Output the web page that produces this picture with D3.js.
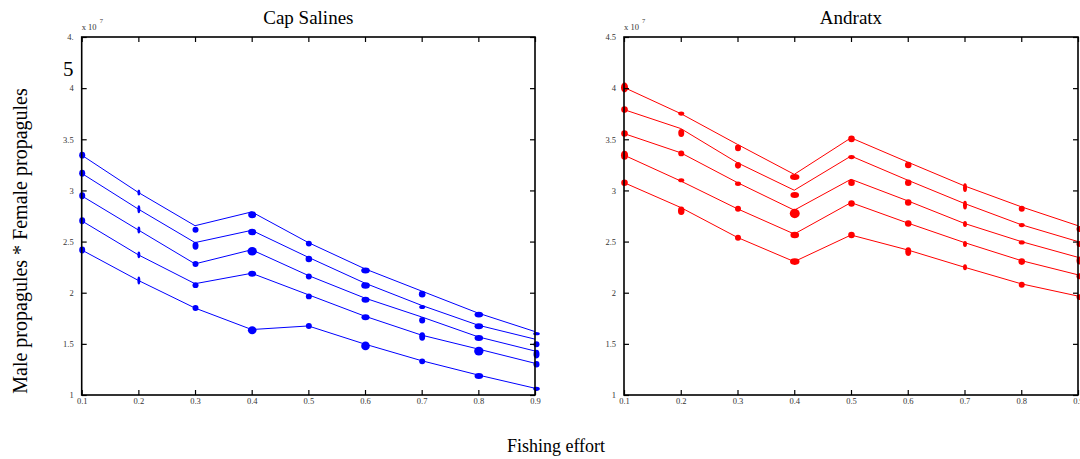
<!DOCTYPE html>
<html><head><meta charset="utf-8">
<script src="https://cdn.jsdelivr.net/npm/d3@7"></script>
<style>html,body{margin:0;padding:0;background:#fff;}svg{display:block;}</style>
</head><body>
<svg id="c" width="1080" height="459"></svg>
<script>
// ---------- data ----------
const effort = [0.1, 0.2, 0.3, 0.4, 0.5, 0.6, 0.7, 0.8, 0.9];
const yTicks = [1, 1.5, 2, 2.5, 3, 3.5, 4, 4.5];
const xTicks = [0.1, 0.2, 0.3, 0.4, 0.5, 0.6, 0.7, 0.8, 0.9];
const titles = ["Cap Salines", "Andratx"];

// Cap Salines (x 10^7): line values
const capLines = [
  [3.345, 2.980, 2.655, 2.790, 2.490, 2.233, 2.016, 1.800, 1.620],
  [3.167, 2.817, 2.490, 2.610, 2.346, 2.093, 1.876, 1.682, 1.546],
  [2.947, 2.613, 2.282, 2.420, 2.168, 1.947, 1.763, 1.568, 1.430],
  [2.703, 2.370, 2.088, 2.190, 1.980, 1.770, 1.585, 1.449, 1.310],
  [2.418, 2.120, 1.850, 1.640, 1.675, 1.497, 1.335, 1.195, 1.066]
];
// Cap Salines: point (marker) values
const capPoints = [
  [3.345, 2.979, 2.616, 2.762, 2.480, 2.217, 1.986, 1.786, 1.600],
  [3.167, 2.817, 2.460, 2.593, 2.330, 2.071, 1.860, 1.672, 1.497],
  [2.947, 2.613, 2.280, 2.405, 2.158, 1.932, 1.730, 1.558, 1.400],
  [2.703, 2.370, 2.074, 2.185, 1.964, 1.760, 1.572, 1.429, 1.300],
  [2.418, 2.120, 1.850, 1.633, 1.675, 1.480, 1.329, 1.186, 1.060]
];
// Cap Salines: spread of each point (value units, effort units)
const capSpreadV = [
  [0.034, 0.029, 0.029, 0.034, 0.029, 0.029, 0.032, 0.029, 0.017],
  [0.034, 0.039, 0.039, 0.032, 0.032, 0.032, 0.020, 0.029, 0.029],
  [0.034, 0.034, 0.029, 0.042, 0.029, 0.029, 0.032, 0.029, 0.042],
  [0.034, 0.034, 0.029, 0.029, 0.029, 0.029, 0.042, 0.042, 0.032],
  [0.034, 0.039, 0.029, 0.039, 0.029, 0.042, 0.029, 0.029, 0.020]
];
const capSpreadE = [
  [0.0053, 0.0026, 0.0053, 0.0071, 0.0053, 0.0076, 0.0058, 0.0076, 0.0058],
  [0.0053, 0.0026, 0.0053, 0.0071, 0.0058, 0.0076, 0.0053, 0.0076, 0.0053],
  [0.0053, 0.0026, 0.0053, 0.0083, 0.0053, 0.0071, 0.0053, 0.0076, 0.0053],
  [0.0053, 0.0026, 0.0053, 0.0071, 0.0053, 0.0071, 0.0053, 0.0083, 0.0053],
  [0.0053, 0.0026, 0.0053, 0.0076, 0.0053, 0.0076, 0.0053, 0.0076, 0.0058]
];

// Andratx (x 10^7): line values
const andLines = [
  [4.007, 3.751, 3.450, 3.157, 3.514, 3.277, 3.044, 2.840, 2.655],
  [3.790, 3.605, 3.270, 3.002, 3.336, 3.100, 2.872, 2.665, 2.500],
  [3.556, 3.368, 3.076, 2.807, 3.109, 2.898, 2.677, 2.500, 2.346],
  [3.345, 3.092, 2.820, 2.574, 2.881, 2.681, 2.490, 2.314, 2.175],
  [3.076, 2.833, 2.540, 2.304, 2.564, 2.418, 2.249, 2.087, 1.967]
];
const andPoints = [
  [4.007, 3.751, 3.416, 3.131, 3.504, 3.248, 3.027, 2.820, 2.623],
  [3.790, 3.562, 3.245, 2.956, 3.326, 3.076, 2.856, 2.661, 2.477],
  [3.556, 3.362, 3.066, 2.774, 3.076, 2.881, 2.671, 2.492, 2.314],
  [3.345, 3.099, 2.820, 2.564, 2.872, 2.677, 2.477, 2.304, 2.161],
  [3.076, 2.801, 2.538, 2.304, 2.564, 2.402, 2.249, 2.078, 1.957]
];
const andSpreadV = [
  [0.049, 0.020, 0.032, 0.029, 0.032, 0.032, 0.042, 0.029, 0.029],
  [0.032, 0.039, 0.032, 0.029, 0.020, 0.032, 0.042, 0.020, 0.029],
  [0.032, 0.029, 0.022, 0.046, 0.032, 0.032, 0.029, 0.020, 0.039],
  [0.044, 0.020, 0.029, 0.032, 0.032, 0.032, 0.029, 0.032, 0.029],
  [0.032, 0.042, 0.029, 0.032, 0.032, 0.042, 0.029, 0.029, 0.029]
];
const andSpreadE = [
  [0.0062, 0.0053, 0.0053, 0.0083, 0.0058, 0.0058, 0.0035, 0.0053, 0.0053],
  [0.0058, 0.0053, 0.0053, 0.0076, 0.0058, 0.0058, 0.0035, 0.0053, 0.0053],
  [0.0058, 0.0053, 0.0053, 0.0088, 0.0058, 0.0058, 0.0035, 0.0053, 0.0053],
  [0.0062, 0.0053, 0.0053, 0.0076, 0.0058, 0.0058, 0.0035, 0.0058, 0.0053],
  [0.0058, 0.0058, 0.0053, 0.0083, 0.0058, 0.0053, 0.0035, 0.0053, 0.0053]
];

// ---------- drawing ----------
const svg = d3.select("#c");
const font = "'Liberation Serif','Times New Roman',serif";
const yTop = 37, yBot = 395;

const panels = [
  {title: titles[0], lines: capLines, points: capPoints, sv: capSpreadV, se: capSpreadE, color: "#0000ff", x0: 81.7, x1: 535},
  {title: titles[1], lines: andLines, points: andPoints, sv: andSpreadV, se: andSpreadE, color: "#ff0000", x0: 624, x1: 1078}
];

panels.forEach((p, pi) => {
  const x = d3.scaleLinear().domain([0.1, 0.9]).range([p.x0, p.x1]);
  const y = d3.scaleLinear().domain([1, 4.5]).range([yBot, yTop]);
  const g = svg.append("g");

  // series lines
  const line = d3.line().x((d, i) => x(effort[i])).y(d => y(d));
  p.lines.forEach(s => {
    g.append("path").attr("d", line(s)).attr("fill", "none")
      .attr("stroke", p.color).attr("stroke-width", 1);
  });
  // markers
  p.points.forEach((s, si) => {
    s.forEach((v, i) => {
      g.append("ellipse")
        .attr("cx", x(effort[i]) + (i === 8 ? 1.5 : 0.5))
        .attr("cy", y(v))
        .attr("rx", x(effort[i] + p.se[si][i]) - x(effort[i]))
        .attr("ry", y(v - p.sv[si][i]) - y(v))
        .attr("fill", p.color);
    });
  });

  // frame
  g.append("rect").attr("x", p.x0).attr("y", yTop).attr("width", p.x1 - p.x0).attr("height", yBot - yTop)
    .attr("fill", "none").attr("stroke", "#000").attr("stroke-width", 1.6);

  // axes (ticks inward)
  const tickLen = 5;
  const xb = d3.axisBottom(x).tickValues(xTicks).tickSize(-tickLen).tickPadding(3).tickFormat(d3.format(".1f"));
  const xt = d3.axisTop(x).tickValues(xTicks).tickSize(-tickLen).tickFormat("");
  const yl = d3.axisLeft(y).tickValues(yTicks).tickSize(-tickLen).tickPadding(8).tickFormat(d => d === 4.5 && pi === 0 ? "4." : d3.format("")(d));
  const yr = d3.axisRight(y).tickValues(yTicks).tickSize(-tickLen).tickFormat("");
  [[xb, `translate(0,${yBot})`], [xt, `translate(0,${yTop})`], [yl, `translate(${p.x0},0)`], [yr, `translate(${p.x1},0)`]].forEach(([ax, tr]) => {
    const a = g.append("g").attr("transform", tr).call(ax);
    a.select(".domain").remove();
    a.selectAll(".tick line").attr("stroke", "#000").attr("stroke-width", 1.2);
    a.selectAll(".tick text").attr("font-family", font).attr("font-size", 8.5).attr("fill", "#333");
  });

  // title
  svg.append("text").attr("x", (p.x0 + p.x1) / 2).attr("y", 24).attr("text-anchor", "middle")
    .attr("font-family", font).attr("font-size", 19).attr("fill", "#000").text(p.title);
  // exponent
  svg.append("text").attr("x", p.x0).attr("y", 30).attr("font-family", font)
    .attr("font-size", 8.5).attr("fill", "#333").text("x 10");
  svg.append("text").attr("x", p.x0 + 18).attr("y", 23).attr("font-family", font)
    .attr("font-size", 6.5).attr("fill", "#333").text("7");
});

// stray large "5"
svg.append("text").attr("x", 63).attr("y", 76).attr("font-family", font).attr("font-size", 21).attr("fill", "#000").text("5");

// axis labels
svg.append("text").attr("transform", "translate(27,241) rotate(-90)").attr("text-anchor", "middle")
  .attr("font-family", font).attr("font-size", 20).attr("fill", "#000").text("Male propagules * Female propagules");
svg.append("text").attr("x", 556).attr("y", 452).attr("text-anchor", "middle")
  .attr("font-family", font).attr("font-size", 18).attr("fill", "#000").text("Fishing effort");
</script>
</body></html>
